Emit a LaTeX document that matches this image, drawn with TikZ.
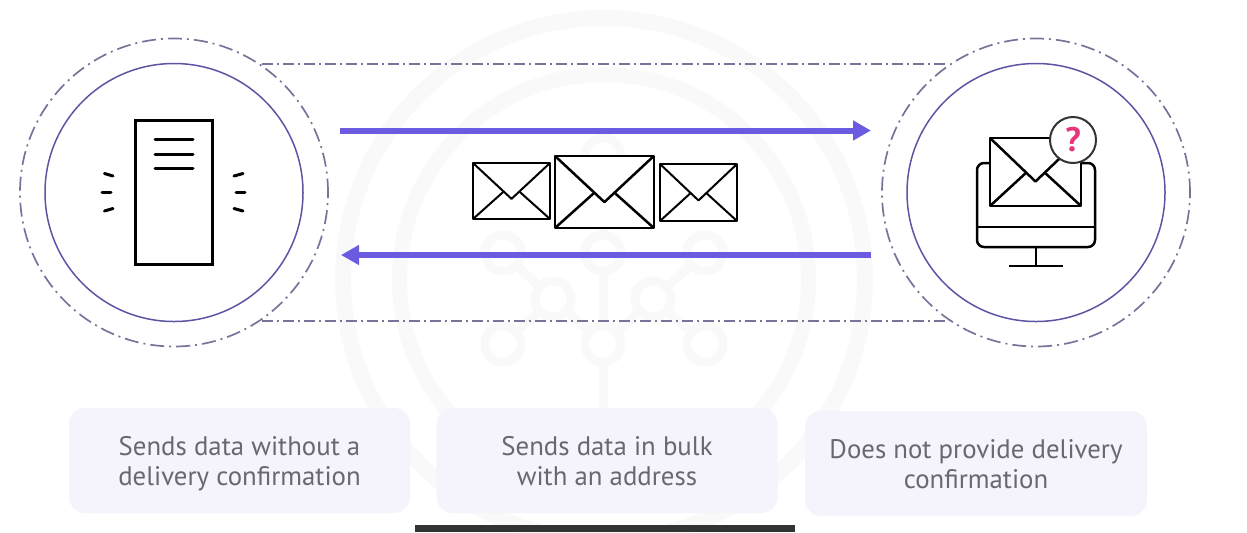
\documentclass[tikz,border=0pt]{standalone}
\usepackage{xcolor}
\usepackage{fontspec}
\setmainfont{PT Sans}
\usetikzlibrary{arrows.meta}
\definecolor{markbg}{HTML}{F9F9F9}
\definecolor{notefill}{HTML}{F5F3FC}
\definecolor{notetext}{HTML}{68686F}
\definecolor{ringline}{HTML}{5B55A4}
\definecolor{dashline}{HTML}{77749A}
\definecolor{flowline}{HTML}{6A5BE0}
\definecolor{askpink}{HTML}{E8347C}
\definecolor{barfill}{HTML}{333333}
\tikzset{
	markring/.style={circle,draw=markbg,line width=4.5pt,fill=none,minimum size=18pt,inner sep=0pt,outer sep=0pt},
	markline/.style={draw=markbg,line width=4.5pt},
	ringout/.style={circle,draw=dashline,line width=0.85pt,dash pattern=on 7pt off 2.5pt on 1pt off 2.5pt,minimum size=154pt,inner sep=0pt,outer sep=0pt},
	ringin/.style={circle,draw=ringline,line width=0.75pt,minimum size=129pt,inner sep=0pt,outer sep=0pt},
	linkline/.style={draw=dashline,line width=1pt,dash pattern=on 5.5pt off 2pt on 1pt off 2pt},
	flowarrow/.style={draw=flowline,line width=3pt,-{Triangle[length=9pt,width=9.5pt]}},
	notebox/.style={rectangle,rounded corners=8pt,fill=notefill,text=notetext,align=center,inner sep=0pt,outer sep=0pt,font=\fontsize{13.4}{15}\selectfont},
	iconline/.style={draw=black,line width=1.5pt,line cap=round,line join=round},
	mailline/.style={draw=black,line join=round}
}
\newcommand{\notetop}{\rule{0pt}{14pt}}
% left edge, top edge, width, height, line width
\newcommand{\mailicon}[5]{
\begin{scope}[shift={(#1,#2)},xscale=#3,yscale=#4]
	\coordinate (NW) at (0,0);
	\coordinate (NE) at (1,0);
	\coordinate (SW) at (0,1);
	\coordinate (SE) at (1,1);
	\coordinate (V) at (0.5,0.64);
	\coordinate (P) at (0.39,0.52);
	\coordinate (Q) at (0.61,0.52);
	\draw[mailline,line width=#5,fill=white] (NW) -- (NE) -- (SE) -- (SW) -- cycle;
	\draw[mailline,line width=#5] (NW) -- (V) -- (NE);
	\draw[mailline,line width=#5] (SW) -- (P);
	\draw[mailline,line width=#5] (SE) -- (Q);
\end{scope}
}
\begin{document}
\begin{tikzpicture}[x=0.5pt,y=-0.5pt]
\useasboundingbox (0,0) rectangle (1247,532);
% faint mark behind everything
\coordinate (mark) at (604,279);
\draw[markline,line width=8pt] (mark) circle (261);
\draw[markline,line width=7.5pt] (mark) circle (204.5);
\node[markring] (m1) at (603,156) {};
\node[markring] (m2) at (503,253) {};
\node[markring] (m3) at (603,253) {};
\node[markring] (m4) at (705,253) {};
\node[markring] (m5) at (553,299) {};
\node[markring] (m6) at (653,299) {};
\node[markring] (m7) at (503,344) {};
\node[markring] (m8) at (603,344) {};
\node[markring] (m9) at (705,344) {};
\coordinate (mfoot) at (603,412);
\draw[markline] (m1) -- (m3);
\draw[markline] (m3) -- (m8);
\draw[markline] (m2) -- (m5);
\draw[markline] (m4) -- (m6);
\draw[markline] (m5) -- (m7);
\draw[markline] (m6) -- (m9);
\draw[markline] (m5) -- (m8);
\draw[markline] (m6) -- (m8);
\draw[markline] (m8) -- (mfoot);

% the two ends
\node[ringout] (sender) at (174,192.5) {};
\node[ringin] (senderin) at (174,192.5) {};
\node[ringout] (receiver) at (1036,192.5) {};
\node[ringin] (receiverin) at (1036,192.5) {};
\coordinate (linkA) at (262,64);
\coordinate (linkB) at (947,64);
\coordinate (linkC) at (262,321);
\coordinate (linkD) at (947,321);
\draw[linkline] (linkA) -- (linkB);
\draw[linkline] (linkC) -- (linkD);

% server
\node[draw=black,line width=1.5pt,minimum width=38.5pt,minimum height=72pt,inner sep=0pt,outer sep=0pt] (server) at (173.5,192) {};
\draw[iconline] (155,139) -- (193,139);
\draw[iconline] (155,154) -- (193,154);
\draw[iconline] (155,168) -- (193,168);
\draw[iconline] (104.5,173.5) -- (113,176);
\draw[iconline] (102,192) -- (111,192);
\draw[iconline] (104.5,211) -- (113,208.5);
\draw[iconline] (234,176) -- (243,173.5);
\draw[iconline] (236,192) -- (245,192);
\draw[iconline] (234,208.5) -- (243,211);

% arrows and mail
\coordinate (topfrom) at (340,130.5);
\coordinate (topto) at (871,130.5);
\coordinate (lowfrom) at (871,255);
\coordinate (lowto) at (341,255);
\draw[flowarrow] (topfrom) -- (topto);
\draw[flowarrow] (lowfrom) -- (lowto);
\mailicon{473}{163}{77}{56}{1pt}
\mailicon{555}{156}{99}{72}{1.25pt}
\mailicon{660}{164}{77}{57}{1pt}

% monitor
\draw[draw=black,line width=1.25pt,rounded corners=3.5pt] (977,163) rectangle (1095,247);
\draw[draw=black,line width=1.25pt] (977,227) -- (1095,227);
\draw[draw=black,line width=1.25pt] (1036,247) -- (1036,266);
\draw[draw=black,line width=1.25pt] (1009,266) -- (1063,266);
\mailicon{990}{138}{91}{68}{1.25pt}
\node[circle,draw=black!80,line width=1pt,fill=white,minimum size=23pt,inner sep=0pt,outer sep=0pt,text=askpink,font=\fontsize{17}{17}\selectfont\bfseries] (ask) at (1073,140) {?};

% notes
\node[notebox,minimum width=170.5pt,minimum height=52.5pt] (note1) at (239.5,460.5) {\notetop Sends data without a\\\strut delivery confirmation};
\node[notebox,minimum width=170.5pt,minimum height=52.5pt] (note2) at (607,460.5) {\notetop Sends data in bulk\\\strut with an address};
\node[notebox,minimum width=171pt,minimum height=52.5pt] (note3) at (976,463.5) {\notetop Does not provide delivery\\\strut confirmation};

\fill[barfill] (415,525) rectangle (795,532);
\end{tikzpicture}
\end{document}
